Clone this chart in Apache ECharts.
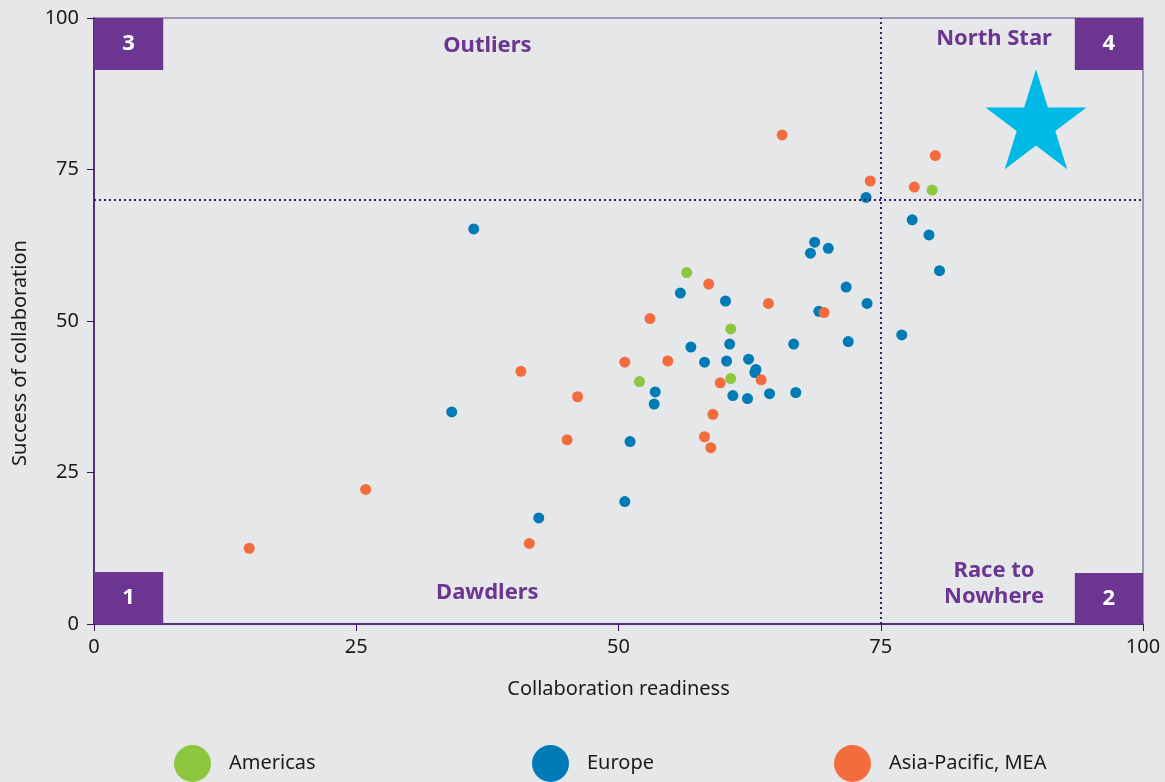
<!DOCTYPE html>
<html>
<head>
<meta charset="utf-8">
<title>Collaboration readiness vs success</title>
<script src="https://cdn.jsdelivr.net/npm/echarts@6/dist/echarts.min.js"></script>
<style>
  html, body { margin: 0; padding: 0; background: #e6e7e8; }
  #chart { width: 1165px; height: 782px; }
</style>
</head>
<body>
<div id="chart"></div>
<script>
// values: [collaboration readiness, success of collaboration]
const americas = [
  [56.5, 58.0], [60.7, 48.7], [60.7, 40.5], [52.0, 40.0], [79.9, 71.6]
]
const europe = [
  [36.2, 65.2], [34.1, 35.0], [42.4, 17.5], [50.6, 20.2], [51.1, 30.1],
  [53.5, 38.3], [53.4, 36.3], [55.9, 54.6], [56.9, 45.7], [58.2, 43.2],
  [60.2, 53.3], [60.6, 46.2], [60.3, 43.4], [60.9, 37.7], [62.4, 43.7],
  [63.1, 42.0], [63.0, 41.5], [62.3, 37.2], [64.4, 38.0], [66.7, 46.2],
  [66.9, 38.2], [69.1, 51.6], [68.7, 63.0], [68.3, 61.2], [70.0, 62.0],
  [71.7, 55.6], [71.9, 46.6], [73.7, 52.9], [73.6, 70.4], [77.0, 47.7],
  [78.0, 66.7], [79.6, 64.2], [80.6, 58.3]
]
const asiaPacific = [
  [14.8, 12.5], [25.9, 22.2], [41.5, 13.3], [40.7, 41.7], [46.1, 37.5],
  [45.1, 30.4], [50.6, 43.2], [53.0, 50.4], [54.7, 43.4], [58.6, 56.1],
  [59.7, 39.8], [59.0, 34.6], [58.2, 30.9], [58.8, 29.1], [63.6, 40.3],
  [64.3, 52.9], [69.6, 51.4], [65.6, 80.7], [74.0, 73.1], [78.2, 72.1],
  [80.2, 77.3]
]
const northStar = [[89.8, 83.3]]
const thresholds = { readiness: 75, success: 70 }
const axisTicks = [0, 25, 50, 75, 100]

// quadrant names and number boxes
const quadrantNames = [
  { name: 'Outliers', value: [37.5, 95.4] },
  { name: 'North Star', value: [85.8, 96.5] },
  { name: 'Dawdlers', value: [37.5, 5.1] },
  { name: 'Race to\nNowhere', value: [85.8, 6.6] }
]
const quadrantBoxes = [
  { label: '3', from: [0, 100], to: [6.6, 91.4] },
  { label: '4', from: [93.5, 100], to: [100, 91.4] },
  { label: '1', from: [0, 8.6], to: [6.6, 0] },
  { label: '2', from: [93.5, 8.4], to: [100, 0] }
]

const PURPLE = '#6c3591'
const AXIS_DARK = '#3d0f5c'
const TEXT = '#1a1a1a'
const FONT = 'Noto Sans'
const STAR_PATH = 'path://M100,0 L122.45,69.1 L195.1,69.1 L136.3,111.8 L158.8,180.9 L100,138.2 L41.2,180.9 L63.7,111.8 L4.9,69.1 L77.55,69.1 Z'

const chart = echarts.init(document.getElementById('chart'))

const legendBase = {
  orient: 'horizontal',
  top: 745,
  padding: 0,
  icon: 'circle',
  itemWidth: 37,
  itemHeight: 37,
  selectedMode: false,
  textStyle: { fontFamily: FONT, fontSize: 20, color: TEXT, padding: [0, 0, 0, 13] }
}

chart.setOption({
  backgroundColor: '#e6e7e8',
  animation: false,
  textStyle: { fontFamily: FONT },
  grid: {
    left: 94, right: 22, top: 18, bottom: 158,
    show: true,
    borderColor: '#8c7aa6',
    borderWidth: 1.5,
    backgroundColor: 'transparent'
  },
  legend: [
    { ...legendBase, left: 174, data: ['Americas'] },
    { ...legendBase, left: 532, data: ['Europe'] },
    { ...legendBase, left: 834, data: ['Asia-Pacific, MEA'] }
  ],
  xAxis: {
    type: 'value',
    min: axisTicks[0],
    max: axisTicks[axisTicks.length - 1],
    interval: 25,
    name: 'Collaboration readiness',
    nameLocation: 'middle',
    nameGap: 55,
    nameTextStyle: { fontSize: 20, color: TEXT },
    axisLine: { onZero: false, lineStyle: { color: AXIS_DARK, width: 1.5 } },
    axisTick: { show: true, length: 7, lineStyle: { color: AXIS_DARK } },
    axisLabel: { fontSize: 20, color: TEXT, margin: 13 },
    splitLine: { show: false }
  },
  yAxis: {
    type: 'value',
    min: axisTicks[0],
    max: axisTicks[axisTicks.length - 1],
    interval: 25,
    name: 'Success of collaboration',
    nameLocation: 'middle',
    nameGap: 64,
    nameTextStyle: { fontSize: 20, color: TEXT, padding: [0, 64, 0, 0] },
    axisLine: { show: true, onZero: false, lineStyle: { color: AXIS_DARK, width: 1.5 } },
    axisTick: { show: true, length: 7, lineStyle: { color: AXIS_DARK } },
    axisLabel: { fontSize: 20, color: TEXT, margin: 15 },
    splitLine: { show: false }
  },
  series: [
    {
      name: 'quadrants',
      type: 'scatter',
      symbolSize: 0,
      silent: true,
      z: 1,
      itemStyle: { opacity: 1 },
      data: quadrantNames,
      label: {
        show: true,
        position: 'inside',
        formatter: p => p.name,
        color: PURPLE,
        fontSize: 22,
        fontWeight: 'bold',
        lineHeight: 26,
        align: 'center',
        verticalAlign: 'middle'
      },
      markLine: {
        silent: true,
        symbol: 'none',
        label: { show: false },
        lineStyle: { color: '#3b1a5e', type: [2, 3], width: 2, opacity: 1 },
        data: [{ xAxis: thresholds.readiness }, { yAxis: thresholds.success }]
      },
      markArea: {
        silent: true,
        itemStyle: { color: PURPLE, opacity: 1 },
        label: {
          show: true,
          position: 'inside',
          color: '#fff',
          fontSize: 22,
          fontWeight: 'bold'
        },
        data: quadrantBoxes.map(b => [
          { name: b.label, coord: b.from },
          { coord: b.to }
        ])
      }
    },
    {
      name: 'North Star',
      type: 'scatter',
      symbol: STAR_PATH,
      symbolSize: [101, 100],
      itemStyle: { color: '#00b9e4', opacity: 1 },
      data: northStar
    },
    {
      name: 'Europe',
      type: 'scatter',
      symbolSize: 11,
      itemStyle: { color: '#007bb6', opacity: 1 },
      data: europe
    },
    {
      name: 'Americas',
      type: 'scatter',
      symbolSize: 11,
      itemStyle: { color: '#8dc63f', opacity: 1 },
      data: americas
    },
    {
      name: 'Asia-Pacific, MEA',
      type: 'scatter',
      symbolSize: 11,
      itemStyle: { color: '#f36c3d', opacity: 1 },
      data: asiaPacific
    }
  ]
})
</script>
</body>
</html>
